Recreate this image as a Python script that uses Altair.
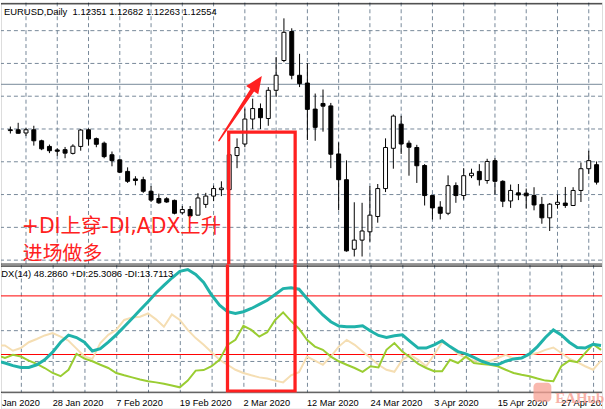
import altair as alt
import pandas as pd

# ---------------- data (bar 0 = 20 Jan 2020, daily EURUSD) ----------------
bars = list(range(76))
opens = [1.1086, 1.1086, 1.1074, 1.1086, 1.1045, 1.1024, 1.1011, 1.1012, 1.0998, 1.1024,
         1.1086, 1.1053, 1.1036, 1.0993, 1.0974, 1.0931, 1.0903, 1.0900, 1.0857, 1.0830,
         1.0829, 1.0823, 1.0777, 1.0789, 1.0768, 1.0808, 1.0839, 1.0863, 1.0863, 1.0990,
         1.1033, 1.1126, 1.1165, 1.1128, 1.1233, 1.1344, 1.1452, 1.1289, 1.1260, 1.1163,
         1.1184, 1.1175, 1.0996, 1.0900, 1.0641, 1.0675, 1.0706, 1.0763, 1.0867, 1.1017,
         1.1107, 1.1036, 1.1020, 1.0953, 1.0841, 1.0798, 1.0775, 1.0878, 1.0841, 1.0915,
         1.0931, 1.0897, 1.0971, 1.0894, 1.0821, 1.0851, 1.0850, 1.0841, 1.0808, 1.0758,
         1.0808, 1.0813, 1.0804, 1.0860, 1.0941, 1.0956]
highs = [1.1098, 1.1112, 1.1093, 1.1101, 1.1049, 1.1031, 1.1017, 1.1022, 1.1032, 1.1089,
         1.1091, 1.1057, 1.1042, 1.1005, 1.0976, 1.0946, 1.0913, 1.0911, 1.0876, 1.0848,
         1.0835, 1.0826, 1.0802, 1.0802, 1.0850, 1.0851, 1.0878, 1.0894, 1.0999, 1.1054,
         1.1165, 1.1202, 1.1184, 1.1245, 1.1357, 1.1501, 1.1464, 1.1369, 1.1334, 1.1221,
         1.1236, 1.1186, 1.1039, 1.0972, 1.0816, 1.0814, 1.0876, 1.0884, 1.1054, 1.1143,
         1.1138, 1.1046, 1.1030, 1.0958, 1.0843, 1.0820, 1.0916, 1.0890, 1.0943, 1.0941,
         1.0958, 1.0978, 1.0980, 1.0898, 1.0882, 1.0884, 1.0867, 1.0872, 1.0836, 1.0813,
         1.0845, 1.0873, 1.0872, 1.0964, 1.1008, 1.0968]
lows = [1.1072, 1.1072, 1.1063, 1.1027, 1.1010, 1.0999, 1.0989, 1.0980, 1.0994, 1.1008,
        1.1027, 1.1021, 1.0980, 1.0950, 1.0925, 1.0888, 1.0879, 1.0851, 1.0817, 1.0810,
        1.0814, 1.0771, 1.0771, 1.0758, 1.0767, 1.0795, 1.0820, 1.0839, 1.0860, 1.0943,
        1.1021, 1.1089, 1.1089, 1.1101, 1.1209, 1.1338, 1.1274, 1.1245, 1.1048, 1.1045,
        1.1079, 1.0943, 1.0786, 1.0632, 1.0614, 1.0614, 1.0669, 1.0740, 1.0854, 1.0941,
        1.0996, 1.0915, 1.0888, 1.0804, 1.0752, 1.0752, 1.0768, 1.0814, 1.0826, 1.0906,
        1.0878, 1.0885, 1.0845, 1.0798, 1.0795, 1.0824, 1.0792, 1.0786, 1.0736, 1.0709,
        1.0792, 1.0795, 1.0802, 1.0817, 1.0921, 1.0882]
closes = [1.1083, 1.1073, 1.1086, 1.1045, 1.1015, 1.1008, 1.1006, 1.0999, 1.1025, 1.1085,
          1.1052, 1.1032, 1.0986, 1.0971, 1.0928, 1.0894, 1.0897, 1.0857, 1.0824, 1.0814,
          1.0817, 1.0775, 1.0789, 1.0765, 1.0832, 1.0839, 1.0867, 1.0869, 1.0993, 1.1020,
          1.1126, 1.1165, 1.1131, 1.1233, 1.1289, 1.1449, 1.1289, 1.1258, 1.1162, 1.1095,
          1.1174, 1.0995, 1.0900, 1.0635, 1.0675, 1.0709, 1.0768, 1.0867, 1.1020, 1.1137,
          1.1033, 1.1021, 1.0952, 1.0841, 1.0795, 1.0775, 1.0878, 1.0841, 1.0915, 1.0924,
          1.0900, 1.0968, 1.0894, 1.0820, 1.0860, 1.0843, 1.0840, 1.0806, 1.0758, 1.0809,
          1.0816, 1.0804, 1.0860, 1.0941, 1.0971, 1.0891]

line_bars = list(range(-1, 76))
adx = [17.8,
       17.1, 16.2, 15.6, 15.6, 16.5, 18.2, 20.8, 24.2, 26.6, 25.8,
       24.2, 21.2, 22.0, 24.2, 26.7, 29.5, 32.3, 35.2, 38.0, 41.0,
       43.6, 46.1, 48.4, 49.0, 47.3, 44.6, 40.3, 36.8, 34.6, 34.0,
       34.6, 35.7, 37.1, 38.5, 40.5, 42.5, 42.8, 42.3, 39.1, 36.3,
       33.5, 31.2, 29.7, 29.5, 29.5, 29.8, 28.0, 26.5, 25.8, 26.4,
       26.7, 24.4, 22.2, 22.2, 23.3, 24.7, 22.7, 21.0, 20.2, 19.0,
       17.7, 16.8, 16.5, 17.7, 18.5, 18.8, 20.2, 22.7, 25.8, 28.4,
       26.7, 24.2, 22.4, 22.2, 23.5, 23.1]
plus_di = [19.8,
           18.8, 19.9, 19.3, 17.9, 16.8, 15.4, 13.7, 12.6, 14.8, 20.2,
           18.6, 17.7, 16.5, 15.4, 13.7, 12.9, 12.2, 11.5, 10.9, 10.5,
           10.0, 9.4, 8.8, 11.1, 14.5, 14.7, 16.0, 18.2, 23.3, 25.0,
           29.8, 28.4, 26.1, 27.6, 31.8, 34.4, 31.4, 28.8, 25.0, 22.7,
           21.6, 19.3, 17.7, 16.5, 15.4, 14.1, 16.0, 15.6, 21.6, 23.9,
           21.0, 19.0, 16.8, 15.4, 14.3, 14.3, 18.2, 17.1, 19.3, 17.1,
           16.8, 16.5, 16.0, 14.8, 13.7, 13.1, 12.6, 11.8, 11.1, 10.9,
           16.0, 17.9, 17.4, 20.5, 23.5, 21.6]
minus_di = [23.0,
            23.1, 21.3, 22.2, 24.2, 25.3, 26.5, 27.3, 26.1, 24.7, 22.0,
            19.3, 18.5, 23.9, 26.7, 28.4, 31.8, 32.6, 32.9, 34.0, 32.0,
            29.5, 33.7, 31.8, 28.4, 25.6, 23.3, 20.8, 18.2, 16.5, 14.8,
            13.7, 12.9, 12.2, 11.8, 11.1, 10.5, 12.9, 14.0, 19.3, 17.9,
            16.5, 19.3, 22.7, 25.0, 23.3, 21.0, 18.8, 16.5, 14.8, 14.1,
            18.2, 19.9, 18.2, 16.0, 19.9, 24.2, 22.7, 20.2, 18.8, 17.9,
            17.9, 17.7, 18.8, 19.9, 18.6, 18.8, 19.9, 20.5, 21.6, 22.4,
            20.5, 18.6, 17.4, 16.0, 14.8, 17.9]

grid_bars = list(range(2, 76, 4))
label_bars = [-2, 6, 14, 22, 30, 38, 46, 54, 62, 70]
label_texts = ["16 Jan 2020", "28 Jan 2020", "7 Feb 2020", "19 Feb 2020", "2 Mar 2020",
               "12 Mar 2020", "24 Mar 2020", "3 Apr 2020", "15 Apr 2020", "27 Apr 2020"]
price_grid = [1.14552, 1.13331, 1.12110, 1.10889, 1.09668, 1.08447, 1.07226, 1.06005]
bid_price = [1.12554]
adx_grid = [28.14, 17.63]
adx_levels = [40, 20]

header = "EURUSD,Daily\u00a0\u00a01.12351 1.12682 1.12263 1.12554"
sub_header = "ADX(14) 48.2860 +DI:25.3086 -DI:13.7113"
note_lines = ["+DI上穿-DI,ADX上升", "进场做多"]

# annotation geometry in data units
box_left, box_right = [28], [36.5]
box_top_price = [1.1077]
box_bottom_adx = [7.5]
arrow_bars = [26.75, 31.62]
arrow_prices = [1.10457, 1.12601]
arrow_widths = [1.5, 5.0]

# ---------------- styling ----------------
W = 605
RED = "#FF2020"
GRID = "#778899"
FONT = "Liberation Sans"

xs = alt.Scale(domain=[-0.5, 75.125], nice=False, zero=False)
ys = alt.Scale(domain=[1.05838, 1.156065], nice=False, zero=False)
ya = alt.Scale(domain=[6.949, 50.678], nice=False, zero=False)

candles = pd.DataFrame({"bar": bars, "open": opens, "high": highs,
                        "low": lows, "close": closes})
lines = pd.DataFrame({"bar": line_bars, "adx": adx, "pdi": plus_di, "mdi": minus_di})

def vgrid():
    return alt.Chart(pd.DataFrame({"bar": grid_bars})).mark_rule(
        color=GRID, strokeDash=[4, 3], strokeWidth=1, xOffset=0.5, clip=True
    ).encode(x=alt.X("bar:Q", scale=xs, axis=None))

def frame(y):
    return alt.Chart(pd.DataFrame({"a": [0]})).mark_rule(
        color="black", strokeWidth=1
    ).encode(y=alt.value(y))

# ---------------- main (price) panel ----------------
hgrid = alt.Chart(pd.DataFrame({"price": price_grid})).mark_rule(
    color=GRID, strokeDash=[4, 3], strokeWidth=1, clip=True
).encode(y=alt.Y("price:Q", scale=ys, axis=None))

bid = alt.Chart(pd.DataFrame({"price": bid_price})).mark_rule(
    color=GRID, strokeWidth=1, clip=True
).encode(y=alt.Y("price:Q", scale=ys, axis=None))

wicks = alt.Chart(candles).mark_rule(color="black", strokeWidth=1, xOffset=0.5, clip=True).encode(
    x=alt.X("bar:Q", scale=xs, axis=None),
    y=alt.Y("low:Q", scale=ys, axis=None),
    y2="high:Q",
)
bodies = alt.Chart(candles).mark_bar(size=4, stroke="black", strokeWidth=1, xOffset=0.5, clip=True).encode(
    x=alt.X("bar:Q", scale=xs, axis=None),
    y=alt.Y("open:Q", scale=ys, axis=None),
    y2="close:Q",
    fill=alt.condition("datum.close >= datum.open", alt.value("#FFFFFF"), alt.value("#000000")),
)

box_main = alt.Chart(pd.DataFrame({"x1": box_left, "x2": box_right, "top": box_top_price,
                                   "bottom": [1.05]})).mark_rect(
    fillOpacity=0, stroke=RED, strokeWidth=3.3, clip=True
).encode(x=alt.X("x1:Q", scale=xs, axis=None), x2="x2:Q",
         y=alt.Y("top:Q", scale=ys, axis=None), y2="bottom:Q")

arrow_df = pd.DataFrame({"bar": arrow_bars, "price": arrow_prices, "w": arrow_widths})
arrow_shaft = alt.Chart(arrow_df).mark_trail(color=RED, clip=True).encode(
    x=alt.X("bar:Q", scale=xs, axis=None),
    y=alt.Y("price:Q", scale=ys, axis=None),
    size=alt.Size("w:Q", scale=None, legend=None),
    order="bar:Q",
)
arrow_head = alt.Chart(arrow_df.tail(1)).mark_point(
    shape="M0,-1L0.85,1L-0.85,1Z", size=300, angle=34, filled=True,
    color=RED, opacity=1, strokeWidth=0, clip=True
).encode(x=alt.X("bar:Q", scale=xs, axis=None), y=alt.Y("price:Q", scale=ys, axis=None))

head_text = alt.Chart(pd.DataFrame({"t": [header]})).mark_text(
    font=FONT, fontSize=9.5, color="black", align="left", baseline="alphabetic"
).encode(text="t:N", x=alt.value(3), y=alt.value(13))

note1 = alt.Chart(pd.DataFrame({"t": [note_lines[0]]})).mark_text(
    font="DejaVu Sans, Noto Sans CJK SC", fontSize=20.5, color=RED, align="left", baseline="alphabetic"
).encode(text="t:N", x=alt.value(21), y=alt.value(232))
note2 = alt.Chart(pd.DataFrame({"t": [note_lines[1]]})).mark_text(
    font="Noto Sans CJK SC", fontSize=20, color=RED, align="left", baseline="alphabetic"
).encode(text="t:N", x=alt.value(22), y=alt.value(259))

main = alt.layer(
    vgrid(), hgrid, bid, wicks, bodies, frame(1.5), frame(263.5),
    box_main, arrow_shaft, arrow_head, head_text, note1, note2
).properties(width=W, height=264)

# ---------------- ADX panel ----------------
agrid = alt.Chart(pd.DataFrame({"v": adx_grid})).mark_rule(
    color=GRID, strokeDash=[4, 3], strokeWidth=1, clip=True
).encode(y=alt.Y("v:Q", scale=ya, axis=None))
alevels = alt.Chart(pd.DataFrame({"v": adx_levels})).mark_rule(
    color="#FF0000", strokeWidth=1, clip=True
).encode(y=alt.Y("v:Q", scale=ya, axis=None))

def ind_line(col, color, width):
    return alt.Chart(lines).mark_line(color=color, strokeWidth=width, clip=True).encode(
        x=alt.X("bar:Q", scale=xs, axis=None),
        y=alt.Y(f"{col}:Q", scale=ya, axis=None),
        order="bar:Q",
    )

box_sub = alt.Chart(pd.DataFrame({"x1": box_left, "x2": box_right, "top": [60.0],
                                  "bottom": box_bottom_adx})).mark_rect(
    fillOpacity=0, stroke=RED, strokeWidth=3.3, clip=True
).encode(x=alt.X("x1:Q", scale=xs, axis=None), x2="x2:Q",
         y=alt.Y("top:Q", scale=ya, axis=None), y2="bottom:Q")

sub_text = alt.Chart(pd.DataFrame({"t": [sub_header]})).mark_text(
    font=FONT, fontSize=9.5, color="black", align="left", baseline="alphabetic", clip=True
).encode(text="t:N", x=alt.value(-6), y=alt.value(12.5))

sub = alt.layer(
    vgrid(), agrid, alevels,
    ind_line("mdi", "#F5DEB3", 2), ind_line("pdi", "#9ACD32", 2), ind_line("adx", "#20B2AA", 3),
    frame(1.5), frame(128.5), box_sub, sub_text
).properties(width=W, height=129)

# ---------------- date labels row ----------------
labels_df = pd.DataFrame({"bar": label_bars, "t": label_texts})
date_labels = alt.Chart(labels_df).mark_text(
    font=FONT, fontSize=9.3, color="black", align="left", baseline="alphabetic", clip=True
).encode(x=alt.X("bar:Q", scale=xs, axis=None), text="t:N", y=alt.value(13))

logo_box = alt.Chart(pd.DataFrame({"a": [0]})).mark_rect(
    color="#F7A093", opacity=0.75, cornerRadius=4
).encode(x=alt.value(536), x2=alt.value(554), y=alt.value(-10), y2=alt.value(9))
logo_text = alt.Chart(pd.DataFrame({"t": ["EAHub"]})).mark_text(
    font="Liberation Serif", fontSize=15, fontWeight="bold", color="#F7A093", opacity=0.8,
    align="left", baseline="alphabetic"
).encode(text="t:N", x=alt.value(558), y=alt.value(10))

labels = alt.layer(date_labels, logo_box, logo_text).properties(width=W, height=16)

chart = alt.vconcat(main, sub, labels, spacing=0, bounds="flush").properties(
    padding=0
).configure_view(stroke="transparent").configure(background="white")

chart.save("out.html", embed_options={"renderer": "svg", "actions": False})
